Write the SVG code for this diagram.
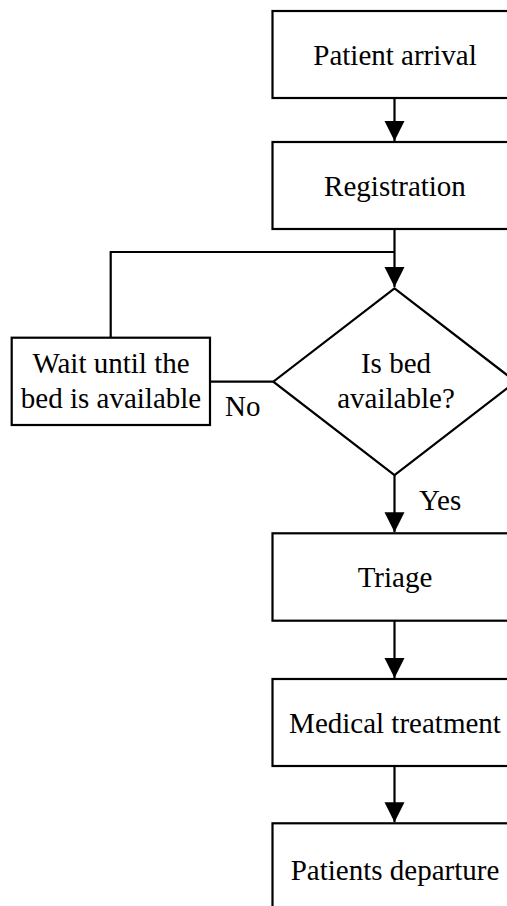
<svg xmlns="http://www.w3.org/2000/svg" width="507" height="906" viewBox="0 0 507 906">
<style>
.box{fill:#fff;stroke:#000;stroke-width:2.2}
.ln{fill:none;stroke:#000;stroke-width:2.2}
text{font-family:"Liberation Serif","Times New Roman",serif;font-size:29px;fill:#000;text-anchor:middle}
.lbl{text-anchor:start}
</style>
<defs>
<marker id="ah" markerUnits="userSpaceOnUse" markerWidth="20" markerHeight="22" refX="20" refY="10" orient="auto">
<path d="M0,0 L20,10 L0,20 Z" fill="#000"/>
</marker>
</defs>
<rect width="507" height="906" fill="#fff"/>
<g id="connectors">
<path class="ln" d="M394.5,98 V141" marker-end="url(#ah)"/>
<path class="ln" d="M394.5,229 V287" marker-end="url(#ah)"/>
<path class="ln" d="M394.5,252 H110.7 V337.7"/>
<path class="ln" d="M210,381.7 H273.3"/>
<path class="ln" d="M394.5,475 V532.3" marker-end="url(#ah)"/>
<path class="ln" d="M394.5,620.7 V678" marker-end="url(#ah)"/>
<path class="ln" d="M394.5,766 V822.3" marker-end="url(#ah)"/>
<text class="lbl" x="225" y="416">No</text>
<text class="lbl" x="419" y="510">Yes</text>
</g>
<g id="n1"><rect class="box" x="272.5" y="11" width="244" height="87"/><text x="395" y="65">Patient arrival</text></g>
<g id="n2"><rect class="box" x="272.5" y="142" width="244" height="87"/><text x="395" y="196">Registration</text></g>
<g id="n3"><path class="box" d="M394.5,288.3 L515.7,381.7 L394.5,475 L273.3,381.7 Z"/><text x="396" y="373">Is bed</text><text x="396" y="408">available?</text></g>
<g id="n4"><rect class="box" x="11.7" y="337.7" width="198.3" height="87.3"/><text x="111" y="373">Wait until the</text><text x="111" y="408">bed is available</text></g>
<g id="n5"><rect class="box" x="272.5" y="533.3" width="244" height="87.4"/><text x="395" y="587">Triage</text></g>
<g id="n6"><rect class="box" x="272.5" y="679" width="244" height="87"/><text x="395" y="733">Medical treatment</text></g>
<g id="n7"><rect class="box" x="272.5" y="823.3" width="244" height="87"/><text x="395" y="880">Patients departure</text></g>
</svg>
